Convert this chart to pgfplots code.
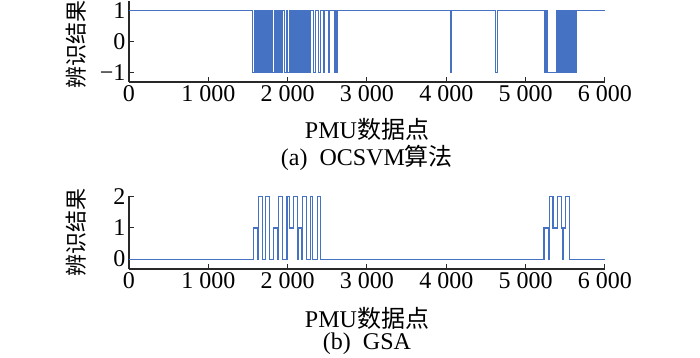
\documentclass[border=0pt]{standalone}
\usepackage{pgfplots}
\pgfplotsset{compat=1.18}
\usepackage{fontspec}
\setmainfont{Liberation Serif}
\newfontfamily\cjk{Noto Sans CJK SC}
\definecolor{lineblue}{RGB}{70,114,196}
\definecolor{axgray}{RGB}{40,40,40}
\pgfplotsset{
 myax/.style={
  scale only axis, width=476bp,
  xmin=0, xmax=6000,
  axis lines=left, axis line style={-, axgray, line width=1.1bp},
  tick align=inside, major tick length=5bp, tick style={axgray, line width=1bp},
  xtick={0,1000,2000,3000,4000,5000,6000},
  xticklabels={0,1 000,2 000,3 000,4 000,5 000,6 000},
  tick label style={font=\fontsize{24bp}{28bp}\selectfont},
  label style={font=\fontsize{24bp}{28bp}\selectfont},
  xlabel={PMU{\cjk 数据点}},
  ylabel={{\cjk\fontsize{22bp}{26bp}\selectfont 辨识结果}},
  clip=false,
 },
 myline/.style={lineblue, line width=1.1bp, const plot, mark=none},
}
\pgfplotstableread{
x y
0 1
1557 -1
1583 1
1592 -1
1600 1
1608 -1
1618 1
1626 -1
1634 1
1644 -1
1652 1
1660 -1
1670 1
1678 -1
1688 1
1696 -1
1712 1
1720 -1
1728 1
1738 -1
1746 1
1754 -1
1764 1
1772 -1
1782 1
1792 -1
1798 1
1804 -1
1835 1
1843 -1
1852 1
1860 -1
1870 1
1878 -1
1886 1
1896 -1
1904 1
1912 -1
1922 1
1930 -1
1940 1
1965 -1
1990 1
1998 -1
2030 1
2040 -1
2050 1
2058 -1
2066 1
2076 -1
2084 1
2094 -1
2102 1
2112 -1
2120 1
2130 -1
2138 1
2148 -1
2156 1
2166 -1
2174 1
2184 -1
2192 1
2202 -1
2210 1
2220 -1
2228 1
2238 -1
2246 1
2256 -1
2264 1
2276 -1
2290 1
2325 -1
2347 1
2385 -1
2410 1
2447 -1
2468 1
2510 -1
2532 1
2586 -1
2600 1
2610 -1
2630 1
4058 -1
4068 1
4622 -1
4640 1
5240 -1
5250 1
5258 -1
5268 1
5272 -1
5385 1
5393 -1
5401 1
5409 -1
5418 1
5426 -1
5434 1
5442 -1
5450 1
5458 -1
5466 1
5474 -1
5482 1
5490 -1
5498 1
5506 -1
5514 1
5522 -1
5530 1
5538 -1
5548 1
5556 -1
5565 1
5575 -1
5590 1
5598 -1
5612 1
5628 -1
5640 1
6000 1
}\ocsvm
\pgfplotstableread{
x y
0 0
1574 1
1620 0
1637 2
1680 0
1725 2
1770 0
1826 1
1878 0
1888 2
1940 0
1985 2
1995 0
2003 2
2020 1
2074 2
2128 0
2140 1
2172 0
2184 2
2234 0
2285 2
2318 0
2373 2
2411 0
5231 1
5290 0
5300 2
5345 1
5405 2
5450 1
5470 0
5480 1
5505 2
5555 0
6000 0
}\gsa
\begin{document}
\begin{tikzpicture}
\useasboundingbox (-129bp,-276bp) rectangle (571bp,82bp);
\begin{axis}[myax, at={(0,0)}, anchor=south west, height=81bp,
  ymin=-1.3, ymax=1.3, ytick={-1,0,1}, yticklabels={−1,0,1},
  xlabel style={at={(axis description cs:0.5,-0.58)}, anchor=center},
  ylabel style={at={(axis description cs:-0.1113,0.46)}, anchor=center},
]
\addplot[myline] table[x=x,y=y]{\ocsvm};
\node[font=\fontsize{24bp}{28bp}\selectfont, anchor=center] at (rel axis cs:0.5,-0.938) {(a)\ \ OCSVM{\cjk 算法}};
\end{axis}
\begin{axis}[myax, at={(0,-187bp)}, anchor=south west, height=73bp,
  ymin=-0.32, ymax=2.03, ytick={0,1,2}, yticklabels={0,1,2},
  xlabel style={at={(axis description cs:0.5,-0.671)}, anchor=center},
  ylabel style={at={(axis description cs:-0.1113,0.5)}, anchor=center},
]
\addplot[myline] table[x=x,y=y]{\gsa};
\node[font=\fontsize{24bp}{28bp}\selectfont, anchor=center] at (rel axis cs:0.5,-1.027) {(b)\ \ GSA};
\end{axis}
\end{tikzpicture}
\end{document}
